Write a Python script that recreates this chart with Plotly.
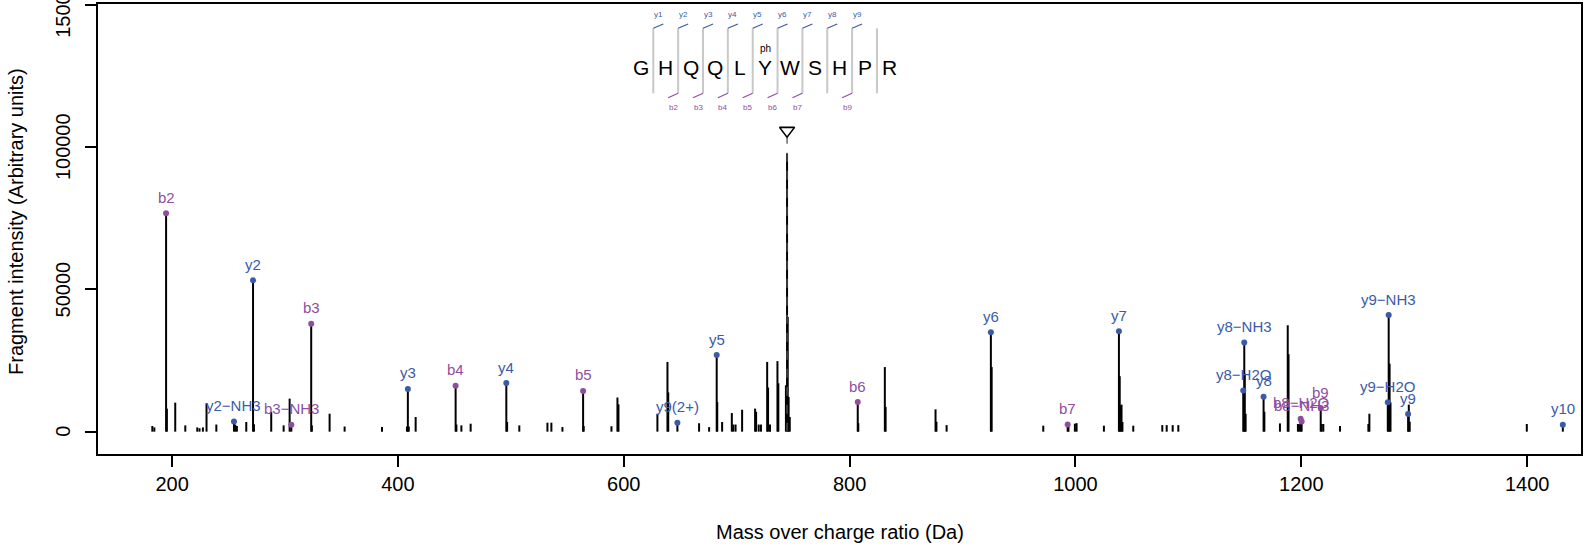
import plotly.graph_objects as go

# ---------------- data ----------------
# unannotated fragment peaks (m/z, intensity)
peak_mz = [182.5, 184.3, 195.4, 202.8, 211.7, 222.3, 224.3, 227.3, 230.5, 239.2,
           256.0, 257.4, 265.7, 272.5, 287.8, 298.8, 304.1, 323.8, 339.5, 352.8,
           385.9, 408.0, 409.6, 415.7, 451.8, 456.2, 464.4, 496.7, 507.5, 532.4,
           535.9, 545.7, 564.5, 589.1, 594.4, 595.3, 629.8, 638.7, 639.4, 666.7,
           675.6, 682.8, 687.1, 695.7, 697.0, 699.0, 704.8, 716.3, 717.2, 719.5,
           721.5, 727.0, 727.8, 729.5, 736.1, 736.9, 743.6, 744.6, 745.2, 746.0, 747.0,
           807.7, 831.2, 831.9, 876.1, 876.9, 885.9, 925.8, 971.5, 993.8, 999.5,
           1001.0, 1025.2, 1039.2, 1039.9, 1040.8, 1041.6, 1051.2, 1076.9, 1080.8, 1086.1,
           1091.1, 1149.9, 1150.7, 1167.3, 1181.1, 1188.0, 1188.7, 1197.0, 1198.2, 1218.0,
           1219.5, 1234.3, 1259.4, 1260.3, 1278.2, 1279.0, 1295.2, 1296.0, 1399.7]
peak_int = [2000, 1500, 8100, 10200, 2200, 1500, 1200, 1500, 10000, 2500,
            2500, 2000, 3400, 2600, 6900, 2200, 11600, 2200, 6300, 1800,
            1600, 1800, 1800, 5150, 2500, 2200, 2800, 3400, 2200, 3150,
            3150, 1620, 2000, 1900, 12000, 9600, 6300, 24500, 13800, 2950,
            1600, 10400, 3400, 6550, 2500, 2500, 7700, 8100, 7000, 2500,
            2500, 24500, 15500, 2500, 24800, 17000, 16300, 97800, 40300, 12200, 5150,
            3000, 22700, 8700, 7850, 3500, 2300, 22700, 2100, 2000, 2800,
            3000, 2100, 19500, 9250, 9500, 3400, 2100, 2300, 2300, 2300,
            2300, 20400, 6300, 7000, 2900, 37400, 27200, 2700, 2600, 2700,
            2700, 2000, 2700, 6300, 23900, 10300, 9500, 3500, 2700]

# annotated fragment ions
ann_label = ["b2", "y2−NH3", "y2", "b3−NH3", "b3", "y3", "b4", "y4", "b5", "y9(2+)",
             "y5", "b6", "y6", "b7", "y7", "y8−H2O", "y8−NH3", "y8", "b8−H2O", "b8−NH3",
             "b9", "y9−H2O", "y9−NH3", "y9", "y10"]
ann_mz = [194.7, 254.8, 271.7, 305.6, 323.2, 408.8, 451.1, 496.0, 564.0, 647.5,
          682.3, 807.2, 925.1, 993.1, 1038.5, 1148.6, 1149.5, 1166.6, 1199.4, 1200.3,
          1217.2, 1276.6, 1277.4, 1294.6, 1431.6]
ann_int = [76800, 3600, 53200, 2400, 37900, 15000, 16100, 17100, 14300, 3100,
           26900, 10400, 34900, 2550, 35300, 14500, 31300, 12300, 4500, 3600,
           8300, 10300, 41000, 6200, 2450]
ann_type = ["b", "y", "y", "b", "b", "y", "b", "y", "b", "y",
            "y", "b", "y", "b", "y", "y", "y", "y", "b", "b",
            "b", "y", "y", "y", "y"]

precursor_mz = 744.6

sequence = list("GHQQLYWSHPR")
modifications = {5: "ph"}
y_sites = [1, 2, 3, 4, 5, 6, 7, 8, 9]
b_sites = [2, 3, 4, 5, 6, 7, 9]

x_ticks = [200, 400, 600, 800, 1000, 1200, 1400]
y_ticks = [0, 50000, 100000, 150000]

# ---------------- style ----------------
FONT = "Liberation Sans, Arial, Helvetica, sans-serif"
BLUE = "#3B5BA8"
PURPLE = "#8E4E9F"
COL = {"y": BLUE, "b": PURPLE}

W, H = 1591, 550
ML, MR, MT, MB = 98, 10, 4, 96
PW, PH = W - ML - MR, H - MT - MB


def px(xpix):
    return (xpix - ML) / PW


def py(ypix):
    return (H - MB - ypix) / PH


fig = go.Figure()

# sticks
sx, sy = [], []
for m, i in list(zip(peak_mz, peak_int)) + list(zip(ann_mz, ann_int)):
    sx += [m, m, None]
    sy += [0, i, None]
fig.add_trace(go.Scatter(x=sx, y=sy, mode="lines",
                         line=dict(color="black", width=2), hoverinfo="skip",
                         showlegend=False))

# precursor marker
fig.add_trace(go.Scatter(x=[precursor_mz, precursor_mz], y=[0, 103300], mode="lines",
                         line=dict(color="#555555", width=1.3, dash="dash"),
                         showlegend=False, hoverinfo="skip"))
fig.add_trace(go.Scatter(x=[precursor_mz], y=[105800], mode="markers",
                         marker=dict(symbol="triangle-down-open", size=13,
                                     color="black", line=dict(width=1.6, color="black")),
                         showlegend=False))

# annotated dots
for t in ["y", "b"]:
    xs = [m for m, tt in zip(ann_mz, ann_type) if tt == t]
    ys = [i for i, tt in zip(ann_int, ann_type) if tt == t]
    fig.add_trace(go.Scatter(x=xs, y=ys, mode="markers",
                             marker=dict(color=COL[t], size=6),
                             showlegend=False))

annotations = []
for lab, m, i, t in zip(ann_label, ann_mz, ann_int, ann_type):
    annotations.append(dict(x=m, y=i, xref="x", yref="y", text=lab, showarrow=False,
                            xanchor="center", yanchor="middle", yshift=16,
                            font=dict(family=FONT, size=15, color=COL[t])))

# sequence diagram
shapes = []
SEP0, STEP = 653.3, 24.85
for k in range(1, len(sequence)):
    xs = SEP0 + (k - 1) * STEP
    shapes.append(dict(type="line", xref="paper", yref="paper",
                       x0=px(xs), x1=px(xs), y0=py(28.3), y1=py(93.3),
                       line=dict(color="#C8C8C8", width=2)))
for idx, aa in enumerate(sequence):
    xc = SEP0 + (idx - 0.5) * STEP
    annotations.append(dict(x=px(xc), y=py(67.5), xref="paper", yref="paper", text=aa,
                            showarrow=False, xanchor="center", yanchor="middle",
                            font=dict(family=FONT, size=21, color="black")))
    if idx in modifications:
        annotations.append(dict(x=px(xc), y=py(49), xref="paper", yref="paper",
                                text=modifications[idx], showarrow=False,
                                xanchor="center", yanchor="middle",
                                font=dict(family=FONT, size=10, color="black")))
for k in y_sites:
    xs = SEP0 + (k - 1) * STEP
    shapes.append(dict(type="line", xref="paper", yref="paper",
                       x0=px(xs), x1=px(xs + 10), y0=py(28.3), y1=py(24),
                       line=dict(color=BLUE, width=1.2)))
    annotations.append(dict(x=px(xs + 5), y=py(14), xref="paper", yref="paper",
                            text="y%d" % k, showarrow=False, xanchor="center",
                            yanchor="middle", font=dict(family=FONT, size=8, color=BLUE)))
for k in b_sites:
    xs = SEP0 + (k - 1) * STEP
    shapes.append(dict(type="line", xref="paper", yref="paper",
                       x0=px(xs - 10), x1=px(xs), y0=py(97.7), y1=py(93.3),
                       line=dict(color=PURPLE, width=1.2)))
    annotations.append(dict(x=px(xs - 5), y=py(107.3), xref="paper", yref="paper",
                            text="b%d" % k, showarrow=False, xanchor="center",
                            yanchor="middle", font=dict(family=FONT, size=8, color=PURPLE)))

# y tick labels (rotated, parallel to the axis)
for v in y_ticks:
    annotations.append(dict(x=0, y=v, xref="paper", yref="y", text=str(v),
                            showarrow=False, xanchor="center", yanchor="middle",
                            xshift=-35, textangle=-90,
                            font=dict(family=FONT, size=20, color="black")))

# axis titles
annotations.append(dict(x=0.5, y=0, xref="paper", yref="paper",
                        text="Mass over charge ratio (Da)", showarrow=False,
                        xanchor="center", yanchor="middle", yshift=-78,
                        font=dict(family=FONT, size=20, color="black")))
annotations.append(dict(x=0, y=py(222), xref="paper", yref="paper",
                        text="Fragment intensity (Arbitrary units)", showarrow=False,
                        xanchor="center", yanchor="middle", xshift=-82, textangle=-90,
                        font=dict(family=FONT, size=20, color="black")))

fig.update_layout(
    width=W, height=H,
    margin=dict(l=ML, r=MR, t=MT, b=MB, autoexpand=False),
    paper_bgcolor="white", plot_bgcolor="white",
    font=dict(family=FONT, size=20, color="black"),
    shapes=shapes, annotations=annotations,
    showlegend=False,
)
fig.update_xaxes(range=[134.4, 1447.7], tickvals=x_ticks, ticks="outside", ticklen=11,
                 tickwidth=1.5, tickcolor="black", showgrid=False, zeroline=False,
                 showline=True, linewidth=2, linecolor="black", mirror=True,
                 tickfont=dict(size=20, family=FONT), automargin=False)
fig.update_yaxes(range=[-7850, 150300], tickvals=y_ticks, ticks="outside", ticklen=11,
                 tickwidth=1.5, tickcolor="black", showgrid=False, zeroline=False,
                 showline=True, linewidth=2, linecolor="black", mirror=True,
                 showticklabels=False, automargin=False)

fig.write_html("out.html",
               config={"displayModeBar": False},
               post_script="document.body.style.margin='0px';document.body.style.overflow='hidden';")
